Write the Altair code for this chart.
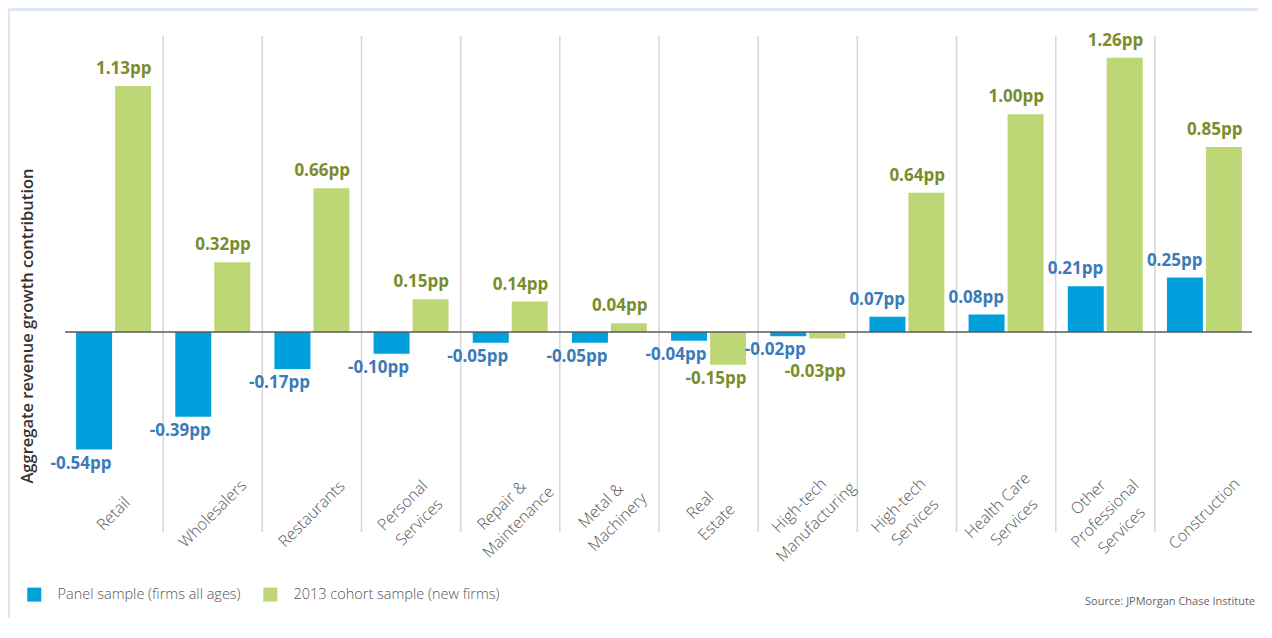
import altair as alt
import pandas as pd

# ---- data ----
categories = ["Retail", "Wholesalers", "Restaurants", "Personal Services",
              "Repair & Maintenance", "Metal & Machinery", "Real Estate",
              "High-tech Manufacturing", "High-tech Services",
              "Health Care Services", "Other Professional Services",
              "Construction"]
tick_labels = ["Retail", "Wholesalers", "Restaurants", "Personal\nServices",
               "Repair &\nMaintenance", "Metal &\nMachinery", "Real\nEstate",
               "High-tech\nManufacturing", "High-tech\nServices",
               "Health Care\nServices", "Other\nProfessional\nServices",
               "Construction"]
panel_values = [-0.54, -0.39, -0.17, -0.10, -0.05, -0.05, -0.04, -0.02,
                0.07, 0.08, 0.21, 0.25]
cohort_values = [1.13, 0.32, 0.66, 0.15, 0.14, 0.04, -0.15, -0.03,
                 0.64, 1.00, 1.26, 0.85]
series_names = ["Panel sample (firms all ages)", "2013 cohort sample (new firms)"]
y_title = "Aggregate revenue growth contribution"
source_text = "Source: JPMorgan Chase Institute"

# ---- styles ----
BLUE = "#00a0dd"
GREEN = "#bdd776"
BLUE_TXT = "#3c7bb8"
GREEN_TXT = "#7a8c2b"
FONT = "Open Sans"
W, H = 1190, 496
LH = 23.5

rows = []
for c, p, g in zip(categories, panel_values, cohort_values):
    rows.append({"category": c, "series": series_names[0], "value": p,
                 "label": f"{p:.2f}pp"})
    rows.append({"category": c, "series": series_names[1], "value": g,
                 "label": f"{g:.2f}pp"})
df = pd.DataFrame(rows)
df["labelY"] = df["value"]
mask_neg_green = (df["series"] == series_names[1]) & (df["value"] < 0)
df.loc[mask_neg_green, "labelY"] = df.loc[mask_neg_green, "value"].clip(upper=-0.12)

ticks_df = pd.DataFrame({"category": categories, "tick": tick_labels})
ticks_df["nlines"] = ticks_df["tick"].str.count("\n") + 1

xscale = alt.Scale(domain=categories, paddingInner=0, paddingOuter=0)
yscale = alt.Scale(domain=[-0.919, 1.360], nice=False, zero=False)
X = alt.X("category:N", scale=xscale, axis=None)

base = alt.Chart(df)

# blue strips of the outer frame
strip_left = alt.Chart(pd.DataFrame({"a": [0]})).mark_rect(color="#dce8f5").encode(
    x=alt.value(-56), x2=alt.value(-54), y=alt.value(-28), y2=alt.value(H + 90))
strip_top = alt.Chart(pd.DataFrame({"a": [0]})).mark_rect(color="#dce8f5").encode(
    x=alt.value(-56), x2=alt.value(W + 10), y=alt.value(-28), y2=alt.value(-25))

grid = alt.Chart(pd.DataFrame({"category": categories[1:]})).mark_rule(
    color="#d6d6d6", strokeWidth=1.5).encode(
    x=alt.X("category:N", scale=xscale, axis=None, bandPosition=0),
    y=alt.value(0), y2=alt.value(H))

bars = base.mark_bar().encode(
    x=X,
    xOffset=alt.XOffset("series:N", sort=series_names,
                        scale=alt.Scale(domain=series_names, paddingInner=0.077,
                                        paddingOuter=0.31)),
    y=alt.Y("value:Q", scale=yscale, axis=None),
    y2=alt.datum(0),
    color=alt.Color("series:N", sort=series_names,
                    scale=alt.Scale(domain=series_names, range=[BLUE, GREEN]),
                    legend=alt.Legend(orient="none", legendX=-37, legendY=551,
                                      direction="horizontal", title=None,
                                      symbolType="square", symbolSize=196,
                                      symbolStrokeWidth=0, labelFont=FONT,
                                      labelFontSize=14.5, labelFontWeight=300,
                                      labelColor="#555555",
                                      labelOffset=16, columnPadding=22,
                                      labelLimit=0, padding=0)),
)

zero = alt.Chart(pd.DataFrame({"z": [0]})).mark_rule(
    color="#595959", strokeWidth=1.5).encode(
    y=alt.Y("z:Q", scale=yscale, axis=None), x=alt.value(1), x2=alt.value(W - 2))


def value_labels(series, positive, color, dx):
    filt = (f"datum.series == '{series}' && datum.value "
            + (">= 0" if positive else "< 0"))
    return base.transform_filter(filt).mark_text(
        font=FONT, fontSize=17, fontWeight="bold", color=color, align="right",
        baseline="alphabetic" if positive else "top",
        dx=dx, dy=-12 if positive else 6).encode(
        x=X, y=alt.Y("labelY:Q", scale=yscale, axis=None), text="label:N")


labels = [
    value_labels(series_names[0], True, BLUE_TXT, -2),
    value_labels(series_names[0], False, BLUE_TXT, -2),
    value_labels(series_names[1], True, GREEN_TXT, 38),
    value_labels(series_names[1], False, GREEN_TXT, 38),
]


def tick_layer(n):
    return alt.Chart(ticks_df).transform_filter(f"datum.nlines == {n}").mark_text(
        font=FONT, fontSize=16, fontWeight=300, color="#555555", angle=315,
        align="center", baseline="middle", lineBreak="\n", lineHeight=LH,
        dy=-(n - 1) / 2 * LH).encode(
        x=X, y=alt.value(478), text="tick:N")


xlabs = [tick_layer(n) for n in (1, 2, 3)]

ytitle = alt.Chart(pd.DataFrame({"t": [y_title]})).mark_text(
    font=FONT, fontSize=16.5, fontWeight=600, color="#333333", angle=270,
    align="center", baseline="middle").encode(
    x=alt.value(-36), y=alt.value(290), text="t:N")

source = alt.Chart(pd.DataFrame({"t": [source_text]})).mark_text(
    font=FONT, fontSize=11, color="#666666", align="right",
    baseline="middle").encode(
    x=alt.value(1191), y=alt.value(566), text="t:N")

chart = alt.layer(strip_left, strip_top, grid, bars, zero, *labels, *xlabs,
                  ytitle, source).properties(
    width=W, height=H,
    padding={"left": 56, "top": 28, "right": 4, "bottom": 86},
    autosize=alt.AutoSizeParams(type="none"),
    background="white",
).configure_view(stroke=None)

chart.save("out.html", embed_options={"renderer": "svg", "actions": False})
